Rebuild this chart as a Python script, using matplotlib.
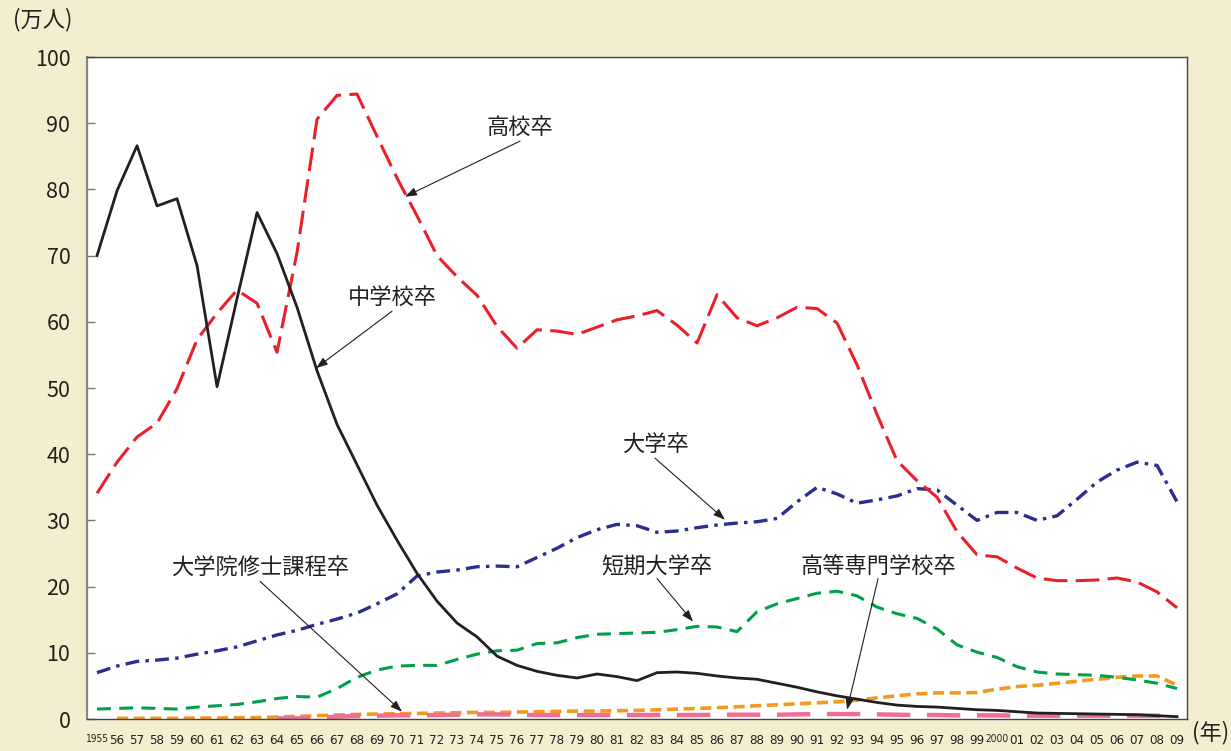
import matplotlib
matplotlib.use('Agg')
import matplotlib.pyplot as plt
from matplotlib.font_manager import FontProperties, findfont

plt.rcParams['font.family'] = ['Noto Sans CJK JP', 'DejaVu Sans']
plt.rcParams['lines.scale_dashes'] = False

years = list(range(1955, 2010))
year_labels = ['1955'] + ['%02d' % (y % 100) for y in range(1956, 2000)] + ['2000'] + ['%02d' % (y % 100) for y in range(2001, 2010)]

# 中学校卒
junior_high = [70.0, 79.8, 86.6, 77.5, 78.6, 68.5, 50.2, 63.5, 76.5, 70.3,
               62.2, 52.6, 44.5, 38.4, 32.3, 27.0, 22.0, 17.8, 14.5, 12.4,
               9.5, 8.1, 7.2, 6.6, 6.2, 6.8, 6.4, 5.8, 7.0, 7.1,
               6.9, 6.5, 6.2, 6.0, 5.4, 4.8, 4.1, 3.5, 3.0, 2.5,
               2.1, 1.9, 1.8, 1.6, 1.4, 1.3, 1.1, 0.9, 0.85, 0.8,
               0.75, 0.7, 0.65, 0.5, 0.35]
# 高校卒
high_school = [34.1, 38.8, 42.6, 44.7, 49.9, 57.3, 61.3, 64.8, 62.8, 55.4,
               70.5, 90.6, 94.2, 94.4, 88.0, 81.7, 76.0, 70.0, 66.8, 64.0,
               59.3, 56.0, 58.8, 58.6, 58.1, 59.2, 60.3, 60.9, 61.7, 59.5,
               56.8, 64.1, 60.6, 59.4, 60.6, 62.2, 62.0, 59.8, 53.5, 46.0,
               39.0, 36.0, 33.5, 28.3, 24.8, 24.5, 22.8, 21.3, 20.9, 20.9,
               21.0, 21.3, 20.7, 19.2, 16.8]
# 大学卒
university = [7.0, 8.0, 8.7, 8.9, 9.2, 9.8, 10.3, 10.9, 11.8, 12.7,
              13.4, 14.3, 15.1, 16.0, 17.4, 18.9, 21.6, 22.2, 22.5, 23.0,
              23.1, 23.0, 24.4, 25.8, 27.4, 28.6, 29.4, 29.2, 28.2, 28.4,
              28.9, 29.3, 29.6, 29.8, 30.3, 32.8, 35.0, 34.0, 32.6, 33.1,
              33.7, 34.8, 34.6, 32.3, 30.0, 31.2, 31.2, 30.0, 30.7, 33.2,
              35.8, 37.6, 38.8, 38.3, 32.8]
# 短期大学卒
junior_college = [1.5, 1.6, 1.7, 1.6, 1.5, 1.8, 2.0, 2.2, 2.6, 3.1,
                  3.4, 3.3, 4.6, 6.3, 7.4, 8.0, 8.1, 8.1, 9.0, 9.8,
                  10.3, 10.4, 11.4, 11.5, 12.3, 12.8, 12.9, 13.0, 13.1, 13.5,
                  14.0, 13.9, 13.2, 16.2, 17.4, 18.2, 19.0, 19.3, 18.6, 16.9,
                  15.9, 15.2, 13.6, 11.2, 10.1, 9.3, 7.9, 7.1, 6.8, 6.7,
                  6.6, 6.3, 5.9, 5.4, 4.6]
# 高等専門学校卒 (1956-)
tech_years = list(range(1956, 2010))
tech_college = [0.1, 0.1, 0.1, 0.1, 0.15, 0.15, 0.2, 0.2, 0.3,
                0.4, 0.5, 0.6, 0.7, 0.75, 0.8, 0.85, 0.9, 0.95, 1.0,
                1.0, 1.05, 1.1, 1.15, 1.2, 1.2, 1.25, 1.3, 1.4, 1.5,
                1.6, 1.7, 1.85, 2.0, 2.15, 2.3, 2.45, 2.6, 2.85, 3.2,
                3.5, 3.8, 3.95, 3.95, 4.0, 4.5, 4.9, 5.1, 5.4, 5.7,
                6.0, 6.3, 6.5, 6.5, 5.1]
# 大学院修士課程卒 (1964-)
master_years = list(range(1964, 2010))
master = [0.1, 0.1, 0.15, 0.35, 0.45, 0.5, 0.55, 0.55, 0.6, 0.65,
          0.7, 0.7, 0.65, 0.6, 0.6, 0.6, 0.6, 0.6, 0.6, 0.6,
          0.6, 0.6, 0.65, 0.65, 0.65, 0.65, 0.7, 0.75, 0.75, 0.75,
          0.7, 0.65, 0.6, 0.6, 0.55, 0.55, 0.55, 0.5, 0.5, 0.5,
          0.5, 0.5, 0.5, 0.5, 0.5, 0.5]

bg = '#F4EED0'
ink = '#231F20'

fig = plt.figure(figsize=(12.31, 7.51), dpi=100, facecolor=bg)
ax = fig.add_axes([0.0707, 0.0426, 0.8936, 0.8815])
ax.set_facecolor('white')


def idx(ys):
    return [y - 1955 for y in ys]


l, = ax.plot(idx(tech_years), tech_college, color='#F39A1E', lw=2.6, zorder=2)
l.set_dashes((8, 4))
l, = ax.plot(idx(master_years), master, color='#EF6E96', lw=3.2, zorder=2.5)
l.set_dashes((24, 12))
l, = ax.plot(idx(years), junior_college, color='#00A04A', lw=2.2, zorder=3)
l.set_dashes((10, 6))
l, = ax.plot(idx(years), university, color='#2B2E8C', lw=2.4, zorder=3)
l.set_dashes((10, 4.5, 2.5, 4.5))
l, = ax.plot(idx(years), high_school, color='#E8202A', lw=2.2, zorder=3)
l.set_dashes((17, 6))
ax.plot(idx(years), junior_high, color=ink, lw=2.0, zorder=4)

ax.set_xlim(-0.5, 54.5)
ax.set_ylim(0, 100)
ax.set_yticks(range(0, 101, 10))
ax.tick_params(axis='y', direction='in', length=6, width=1, colors='#777777',
               labelcolor=ink, labelsize=15.5, pad=12)

# narrow year labels: use a condensed face if one is installed
narrow = FontProperties(family='DejaVu Sans', stretch='condensed')
has_narrow = 'Condensed' in findfont(narrow)
ax.set_xticks(idx(years))
if has_narrow:
    ax.set_xticklabels(year_labels, fontproperties=narrow, fontsize=9.5, color=ink)
else:
    ax.set_xticklabels(year_labels, fontsize=9, color=ink)
for lab in ax.get_xticklabels():
    if len(lab.get_text()) == 4:
        lab.set_fontsize(7.3 if has_narrow else 6.3)
ax.tick_params(axis='x', length=0, pad=11)

for side in ['top', 'right', 'bottom']:
    ax.spines[side].set_color('#444444')
    ax.spines[side].set_linewidth(1.0)
ax.spines['left'].set_color('#888888')
ax.spines['left'].set_linewidth(1.6)

labels = [
    ('高校卒', (21.15, 89.4), (21.15, 87.3), (15.4, 78.9)),
    ('中学校卒', (14.75, 63.7), (14.75, 61.6), (10.95, 53.0)),
    ('大学卒', (27.9, 41.4), (27.9, 39.4), (31.4, 30.1)),
    ('短期大学卒', (28.0, 22.9), (28.0, 21.2), (29.8, 14.7)),
    ('高等専門学校卒', (39.05, 22.9), (39.05, 21.2), (37.5, 1.4)),
    ('大学院修士課程卒', (8.15, 22.7), (8.15, 20.8), (15.25, 1.1)),
]
for text, pos, tail, head in labels:
    ax.text(pos[0], pos[1], text, fontsize=16, color=ink, ha='center', va='center')
    ax.annotate('', xy=head, xytext=tail,
                arrowprops=dict(arrowstyle='-|>,head_length=0.7,head_width=0.25',
                                color=ink, lw=0.8, shrinkA=0, shrinkB=0))

fig.text(43 / 1231, 1 - 20 / 751, '(万人)', fontsize=16, color=ink, ha='center', va='center')
fig.text(1211 / 1231, 1 - 733 / 751, '(年)', fontsize=16, color=ink, ha='center', va='center')

fig.savefig('out.png', dpi=100, facecolor=bg)
